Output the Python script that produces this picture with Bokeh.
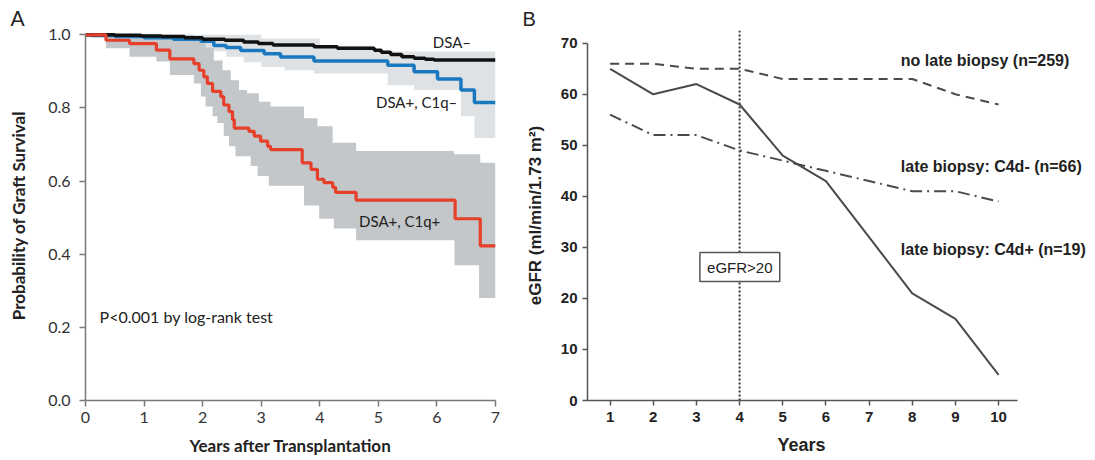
import numpy as np
from bokeh.plotting import figure
from bokeh.models import FixedTicker, PrintfTickFormatter, Range1d, Span
from bokeh.layouts import row
from bokeh.embed import file_html
from bokeh.resources import INLINE
from bokeh.core.properties import value

# ---------------- Panel A data (Kaplan-Meier steps) ----------------
dsa_neg_t = [0, 0.5, 0.95, 1.3, 1.69, 2.0, 2.38, 2.7, 2.95, 3.2, 3.9, 4.3, 4.93, 5.05, 5.21, 5.4, 5.61, 5.8, 5.95, 7.0]
dsa_neg_s = [1.0, 0.999, 0.997, 0.995, 0.992, 0.988, 0.985, 0.98, 0.976, 0.972, 0.967, 0.963, 0.958, 0.952, 0.946, 0.94, 0.936, 0.933, 0.931, 0.931]

c1q_neg_t = [0, 0.1, 0.5, 1.0, 1.5, 1.97, 2.19, 2.4, 2.65, 3.05, 3.33, 3.9, 5.16, 5.61, 6.01, 6.41, 6.64, 7.0]
c1q_neg_s = [1.0, 0.998, 0.995, 0.992, 0.988, 0.982, 0.971, 0.965, 0.957, 0.948, 0.939, 0.928, 0.917, 0.899, 0.879, 0.849, 0.815, 0.815]

c1q_pos_t = [0, 0.35, 0.75, 1.21, 1.44, 1.85, 1.94, 2.02, 2.08, 2.17, 2.31, 2.36, 2.45, 2.51, 2.54,
             2.79, 2.88, 2.99, 3.11, 3.16, 3.70, 3.85, 3.96, 4.07, 4.22, 4.27, 4.62, 6.31, 6.74, 7.0]
c1q_pos_s = [1.0, 0.985, 0.976, 0.958, 0.934, 0.921, 0.903, 0.885, 0.867, 0.845, 0.831, 0.808, 0.79, 0.768, 0.745,
             0.736, 0.723, 0.709, 0.695, 0.686, 0.65, 0.632, 0.605, 0.596, 0.583, 0.569, 0.548, 0.497, 0.423, 0.423]

# confidence bands (step edges)
c1q_pos_up_t = [0, 1.85, 2.05, 2.19, 2.34, 2.48, 2.62, 2.76, 2.96, 3.16, 3.73, 3.96, 4.22, 4.62, 6.29, 6.74, 7.0]
c1q_pos_up_s = [1.0, 0.985, 0.965, 0.93, 0.903, 0.876, 0.849, 0.84, 0.817, 0.804, 0.772, 0.75, 0.705, 0.682, 0.673, 0.65, 0.65]
c1q_pos_lo_t = [0, 0.35, 0.75, 1.21, 1.44, 1.85, 1.97, 2.05, 2.17, 2.25, 2.36, 2.45, 2.56, 2.82, 2.94, 3.13,
                3.73, 3.99, 4.24, 4.62, 6.30, 6.72, 7.0]
c1q_pos_lo_s = [1.0, 0.963, 0.94, 0.927, 0.89, 0.867, 0.831, 0.804, 0.777, 0.759, 0.723, 0.695, 0.668, 0.641, 0.614, 0.587,
                0.533, 0.497, 0.47, 0.438, 0.37, 0.28, 0.28]

c1q_neg_up_t = [0, 3.0, 4.0, 4.9, 7.0]
c1q_neg_up_s = [1.0, 0.99, 0.97, 0.954, 0.954]
c1q_neg_lo_t = [0, 0.3, 1.0, 1.9, 2.1, 2.4, 2.7, 3.0, 3.4, 3.9, 5.16, 5.61, 6.41, 6.64, 7.0]
c1q_neg_lo_s = [1.0, 0.99, 0.978, 0.965, 0.955, 0.94, 0.925, 0.912, 0.903, 0.894, 0.862, 0.849, 0.777, 0.718, 0.718]

a_xticks = [0, 1, 2, 3, 4, 5, 6, 7]
a_yticks = [0.0, 0.2, 0.4, 0.6, 0.8, 1.0]
a_labels = ["DSA\u2013", "DSA+, C1q\u2013", "DSA+, C1q+"]
a_note = "P<0.001 by log-rank test"

# ---------------- Panel B data ----------------
years = [1, 2, 3, 4, 5, 6, 7, 8, 9, 10]
no_late_biopsy = [66, 66, 65, 65, 63, 63, 63, 63, 60, 58]
c4d_neg = [56, 52, 52, 49, 47, 45, 43, 41, 41, 39]
c4d_pos = [65, 60, 62, 58, 48, 43, 32, 21, 16, 5]
b_yticks = [0, 10, 20, 30, 40, 50, 60, 70]
b_labels = ["no late biopsy (n=259)", "late biopsy: C4d- (n=66)", "late biopsy: C4d+ (n=19)"]
b_box = "eGFR>20"


def step_eval(tq, t, s):
    idx = np.searchsorted(np.asarray(t), np.asarray(tq), side="right") - 1
    return np.asarray(s)[np.clip(idx, 0, len(s) - 1)]


def band(up_t, up_s, lo_t, lo_s):
    grid = np.array(sorted(set(up_t) | set(lo_t)))
    return grid, step_eval(grid, lo_t, lo_s), step_eval(grid, up_t, up_s)


FA = "Lato"
FB = "Liberation Sans"

# ---------------- Figure A ----------------
pa = figure(width=520, height=458, output_backend="svg", toolbar_location=None,
            x_range=Range1d(0, 7.0), y_range=Range1d(0, 1.0117),
            min_border_left=85, min_border_right=25, min_border_top=30, min_border_bottom=55)
pa.outline_line_color = None
pa.grid.visible = False

pa.title.text = "A"
pa.title.align = "left"
pa.title.offset = -75
pa.title.standoff = 2
pa.title.text_font = FA
pa.title.text_font_size = "21px"
pa.title.text_font_style = "normal"
pa.title.text_color = "#222222"

g, lo, up = band(c1q_neg_up_t, c1q_neg_up_s, c1q_neg_lo_t, c1q_neg_lo_s)
pa.varea_step(x=g, y1=lo, y2=up, step_mode="after", fill_color="#dfe2e5")
g, lo, up = band(c1q_pos_up_t, c1q_pos_up_s, c1q_pos_lo_t, c1q_pos_lo_s)
pa.varea_step(x=g, y1=lo, y2=up, step_mode="after", fill_color="#c4c7ca")

pa.step(c1q_neg_t, c1q_neg_s, mode="after", line_color="#1a78bf", line_width=3.5)
pa.step(dsa_neg_t, dsa_neg_s, mode="after", line_color="#111111", line_width=3.5)
pa.step(c1q_pos_t, c1q_pos_s, mode="after", line_color="#e5402a", line_width=3.2)

pa.text(x=[5.93, 4.96, 4.67], y=[0.98, 0.817, 0.492], text=a_labels,
        text_font=value(FA), text_font_size="15px", text_color="#222222",
        text_baseline="middle", text_align="left")
pa.text(x=[0.24], y=[0.229], text=[a_note], text_font=value(FA), text_font_size="16px",
        text_color="#222222", text_baseline="middle", text_align="left")

for ax in (pa.xaxis[0], pa.yaxis[0]):
    ax.axis_line_color = "#7a7a7a"
    ax.axis_line_width = 1.5
    ax.major_tick_line_color = "#7a7a7a"
    ax.major_tick_line_width = 1.5
    ax.major_tick_out = 6
    ax.major_tick_in = 0
    ax.minor_tick_line_color = None
    ax.major_label_text_font = FA
    ax.major_label_text_font_size = "16px"
    ax.major_label_text_color = "#333333"
    ax.axis_label_text_font = FA
    ax.axis_label_text_font_size = "17px"
    ax.axis_label_text_font_style = "bold"
    ax.axis_label_text_color = "#222222"

pa.xaxis.ticker = FixedTicker(ticks=a_xticks)
pa.xaxis.bounds = (0, 7)
pa.xaxis.major_label_standoff = 5
pa.xaxis.axis_label = "Years after Transplantation"
pa.xaxis.axis_label_standoff = 9
pa.yaxis.ticker = FixedTicker(ticks=a_yticks)
pa.yaxis.formatter = PrintfTickFormatter(format="%.1f")
pa.yaxis.bounds = (0, 1)
pa.yaxis.major_label_standoff = 9
pa.yaxis.axis_label = "Probability of Graft Survival"
pa.yaxis.axis_label_standoff = 16

# ---------------- Figure B ----------------
pb = figure(width=573, height=458, output_backend="svg", toolbar_location=None,
            x_range=Range1d(0.476, 12.13), y_range=Range1d(0, 72.5),
            min_border_left=67, min_border_right=3, min_border_top=26, min_border_bottom=54)
pb.outline_line_color = None
pb.grid.visible = False

pb.title.text = "B"
pb.title.align = "left"
pb.title.offset = -65
pb.title.standoff = 1
pb.title.text_font = FB
pb.title.text_font_size = "20px"
pb.title.text_font_style = "normal"
pb.title.text_color = "#222222"

pb.add_layout(Span(location=4, dimension="height", line_color="#333333", line_width=2,
                   line_dash="2 2", level="underlay"))

pb.line(years, no_late_biopsy, line_color="#4a4a4a", line_width=2, line_dash="9 6")
pb.line(years, c4d_neg, line_color="#4a4a4a", line_width=2, line_dash="12 5 2 5")
pb.line(years, c4d_pos, line_color="#4a4a4a", line_width=2)

pb.quad(left=[3.08], right=[4.93], bottom=[23.3], top=[29.0], fill_color="white",
        line_color="#555555", line_width=1.5)
pb.text(x=[4.005], y=[26.15], text=[b_box], text_font=value(FB), text_font_size="15px",
        text_color="#222222", text_baseline="middle", text_align="center")

pb.text(x=[7.735, 7.735, 7.735], y=[66.55, 45.84, 29.54], text=b_labels,
        text_font=value(FB), text_font_size="16px", text_font_style="bold",
        text_color="#222222", text_baseline="middle", text_align="left")

for ax in (pb.xaxis[0], pb.yaxis[0]):
    ax.axis_line_color = "#555555"
    ax.axis_line_width = 1.5
    ax.major_tick_line_color = "#555555"
    ax.major_tick_line_width = 1.5
    ax.major_tick_out = 5
    ax.major_tick_in = 0
    ax.minor_tick_line_color = None
    ax.major_label_text_font = FB
    ax.major_label_text_font_size = "15px"
    ax.major_label_text_font_style = "bold"
    ax.major_label_text_color = "#222222"
    ax.axis_label_text_font = FB
    ax.axis_label_text_font_style = "bold"
    ax.axis_label_text_color = "#222222"

pb.xaxis.ticker = FixedTicker(ticks=years)
pb.xaxis.bounds = (0.476, 10.45)
pb.xaxis.major_label_standoff = 6
# label centred under the drawn axis (frame extends further right for the series labels)
pb.xaxis.axis_label = "Years" + "\u00a0" * 15
pb.xaxis.axis_label_text_font_size = "18px"
pb.xaxis.axis_label_standoff = 10
pb.yaxis.ticker = FixedTicker(ticks=b_yticks)
pb.yaxis.bounds = (0, 70)
pb.yaxis.major_label_standoff = 5
pb.yaxis.axis_label = "eGFR (ml/min/1.73 m\u00b2)"
pb.yaxis.axis_label_text_font_size = "17px"
pb.yaxis.axis_label_standoff = 13

layout = row(pa, pb)
open("out.html", "w").write(file_html(layout, INLINE))
